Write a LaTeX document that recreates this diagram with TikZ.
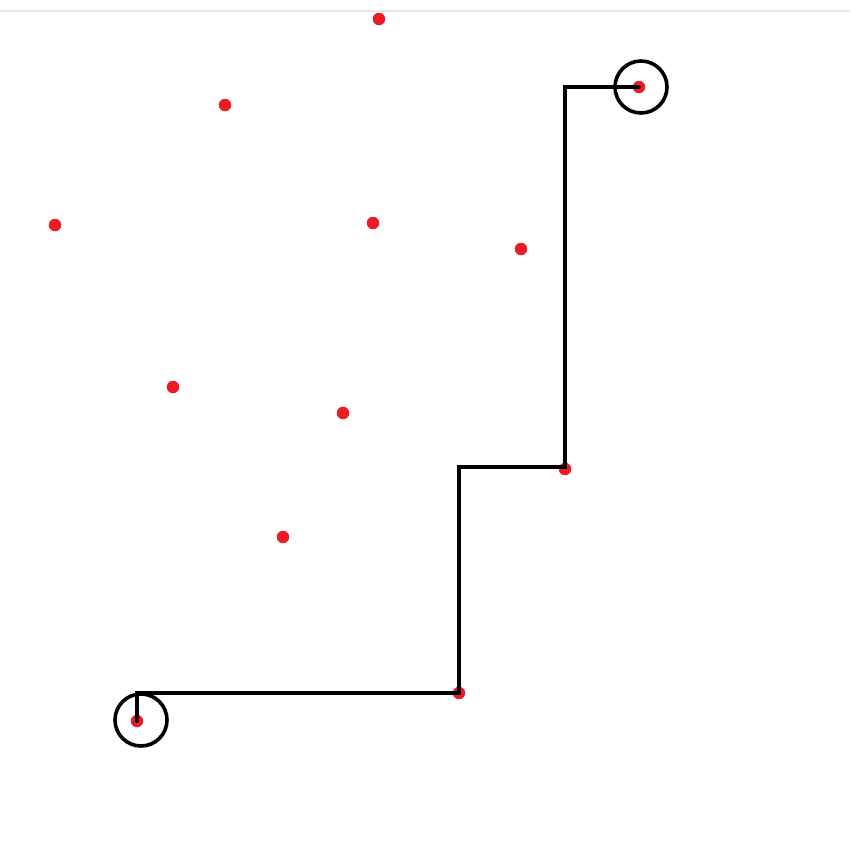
\documentclass[tikz,border=0pt]{standalone}
\usepackage{xcolor}
\usepackage{tikz}
\usetikzlibrary{positioning, calc}
\definecolor{redA}{HTML}{ED1C24}
\definecolor{grayA}{HTML}{E6E6E6}
\tikzset{
  pt/.style={
    circle, fill=redA, draw=none, inner sep=0pt,
    minimum size=12.5\pgfunit
  },
  ring/.style={
    circle, draw=black, line width=3.6\pgfunit, inner sep=0pt,
    minimum size=52\pgfunit
  },
  route/.style={draw=black, line width=4\pgfunit, line cap=round, line join=miter}
}
\def\pgfunit{*0.02cm}
\begin{document}
\begin{tikzpicture}[x=0.02cm, y=-0.02cm]
  \useasboundingbox[fill=white] (0,0) rectangle (850,852);
  \draw[grayA, line width=0.03cm] (0,11) -- (850,11);

  % scattered points
  \node[pt] (p1) at (379,19) {};
  \node[pt] (p2) at (225,105) {};
  \node[pt] (p3) at (55,225) {};
  \node[pt] (p4) at (373,223) {};
  \node[pt] (p5) at (521,249) {};
  \node[pt] (p6) at (173,387) {};
  \node[pt] (p7) at (343,413) {};
  \node[pt] (p8) at (283,537) {};

  % points on the route
  \node[pt] (start) at (137,721) {};
  \node[pt] (mid1) at (459,693) {};
  \node[pt] (mid2) at (565,469) {};
  \node[pt] (goal) at (639,87) {};

  \node[ring] (startring) at (141,720) {};
  \node[ring] (goalring) at (641,87) {};

  \draw[route] (start.center) |- (mid1.center)
    |- ($(mid2.center)+(0,-2)$) |- (goal.center);
\end{tikzpicture}
\end{document}
